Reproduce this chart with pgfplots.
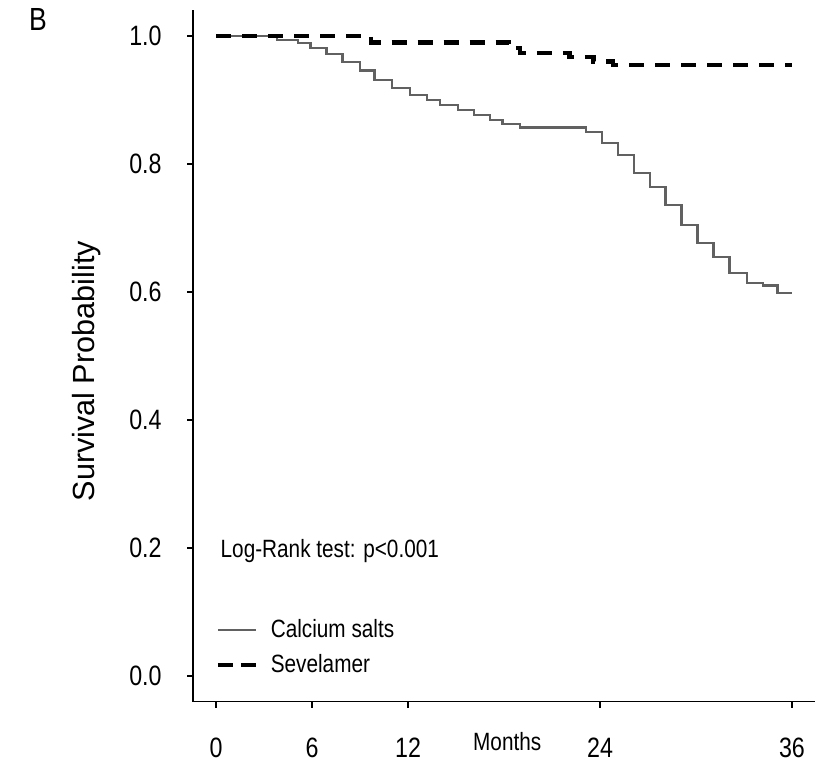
\documentclass[border=0pt]{standalone}
\usepackage{fontspec}
\setmainfont{Liberation Sans}
\newfontfamily\narrowfont[FakeStretch=0.83]{Liberation Sans}
\usepackage{pgfplots}
\pgfplotsset{compat=1.18}

% Kaplan-Meier steps (months, survival)
\pgfplotstableread{
t     s
0     1.000
3.8   0.994
5.1   0.989
5.9   0.981
6.9   0.972
7.9   0.959
9.0   0.946
9.9   0.931
11.0  0.919
12.1  0.908
13.2  0.900
14.0  0.892
15.1  0.884
16.1  0.877
17.1  0.869
17.9  0.863
19.0  0.857
23.1  0.850
24.1  0.833
25.1  0.814
26.1  0.786
27.1  0.764
28.1  0.736
29.1  0.705
30.1  0.677
31.1  0.655
32.1  0.630
33.2  0.614
34.2  0.610
35.1  0.598
36.0  0.598
}\calcium

\pgfplotstableread{
t     s
0     1.000
9.7   0.990
18.3  0.981
19.0  0.973
22.1  0.967
23.6  0.960
24.8  0.955
36.0  0.955
}\sevelamer

\begin{document}
\begin{tikzpicture}
\begin{axis}[
  scale only axis, width=311pt, height=345.6pt,
  xmin=-1.44, xmax=37.44, ymin=-0.04, ymax=1.04,
  axis x line*=bottom, axis y line*=left,
  axis line style={-, line width=0.9pt},
  xtick={0,6,12,24,36},
  ytick={0,0.2,0.4,0.6,0.8,1.0},
  tick align=outside, major tick length=3pt,
  tick style={black, line width=0.9pt},
  /pgf/number format/assume math mode=true,
  yticklabel style={/pgf/number format/fixed, /pgf/number format/fixed zerofill,
    /pgf/number format/precision=1, font=\narrowfont\fontsize{14}{14}\selectfont,
    anchor=east, inner sep=0pt, xshift=-12.5pt},
  xticklabel style={font=\narrowfont\fontsize{14}{14}\selectfont,
    anchor=north, inner sep=0pt, yshift=-15pt},
  ylabel={Survival Probability},
  every axis y label/.style={at={(axis description cs:-0.1704,0.478)}, rotate=90,
    anchor=center, font=\fontsize{15.3}{15.3}\selectfont},
  clip=false,
  legend cell align=left,
  legend style={draw=none, fill=none, at={(axis cs:-0.05,-0.006)}, anchor=south west,
    font=\narrowfont\fontsize{12.5}{12.5}\selectfont, row sep=3pt, inner sep=0pt},
  legend image code/.code={\draw[#1] (0pt,0pt) -- (19pt,0pt);
    \path[draw=none] (0pt,0pt) -- (24.5pt,0pt);},
]
\addplot[const plot, color=black!62, line width=1.1pt] table[x=t, y=s] {\calcium};
\addlegendentry{Calcium salts}
\addplot[const plot, black, line width=2.2pt, dash pattern=on 7.5pt off 5.5pt,
  legend image post style={dash pattern=on 7.5pt off 4pt}] table[x=t, y=s] {\sevelamer};
\addlegendentry{Sevelamer}
\node[anchor=west, font=\narrowfont\fontsize{12.5}{12.5}\selectfont] at (axis cs:-0.15,0.195) {Log-Rank test: p<0.001};
\node[font=\narrowfont\fontsize{12.5}{12.5}\selectfont] at (axis cs:18.2,-0.103) {Months};
\end{axis}
\node[font=\narrowfont\fontsize{16}{16}\selectfont] at (-77.5pt,340.8pt) {B};
\pgfresetboundingbox
\path[use as bounding box] (-96.5pt,-30.7pt) rectangle (312pt,350.8pt);
\end{tikzpicture}
\end{document}
